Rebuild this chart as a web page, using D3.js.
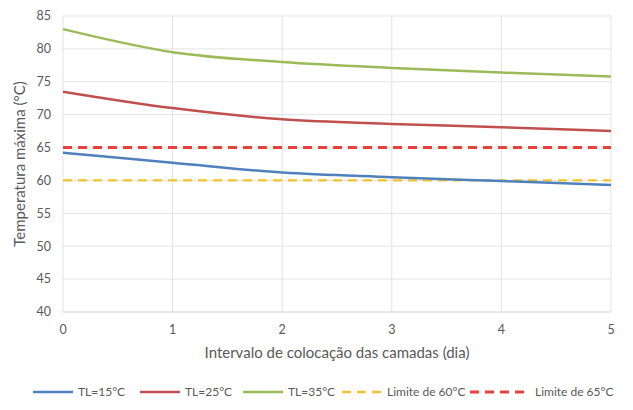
<!DOCTYPE html>
<html>
<head>
<meta charset="utf-8">
<script src="https://cdn.jsdelivr.net/npm/d3@7"></script>
<style>
  body { margin: 0; background: #fff; }
  svg text { font-family: Lato, "Open Sans", sans-serif; fill: #595959; }
</style>
</head>
<body>
<div id="chart"></div>
<script>
const days = [0, 1, 2, 3, 4, 5]
const tl15 = [64.2, 62.7, 61.2, 60.5, 59.9, 59.3]
const tl25 = [73.5, 71.0, 69.3, 68.6, 68.1, 67.5]
const tl35 = [83.0, 79.5, 78.0, 77.1, 76.4, 75.8]
const limits = [60, 65]
const yTicks = [40, 45, 50, 55, 60, 65, 70, 75, 80, 85]
const legendLabels = ['TL=15°C', 'TL=25°C', 'TL=35°C', 'Limite de 60°C', 'Limite de 65°C']

const width = 633
const height = 410
const margin = {top: 16, right: 22, bottom: 98, left: 63}

const svg = d3.select('#chart').append('svg')
  .attr('width', width)
  .attr('height', height)

const x = d3.scaleLinear().domain([0, 5]).range([margin.left, width - margin.right])
const y = d3.scaleLinear().domain([40, 85]).range([height - margin.bottom, margin.top])

// gridlines
svg.append('g').selectAll('line')
  .data(yTicks)
  .enter().append('line')
  .attr('x1', x(0)).attr('x2', x(5))
  .attr('y1', d => y(d)).attr('y2', d => y(d))
  .attr('stroke', d => d === 40 ? '#cfcfcf' : '#e3e3e3')
  .attr('stroke-width', 1)

svg.append('g').selectAll('line')
  .data(days)
  .enter().append('line')
  .attr('x1', d => x(d)).attr('x2', d => x(d))
  .attr('y1', y(40)).attr('y2', y(85))
  .attr('stroke', '#e3e3e3')

// tick labels
svg.append('g').selectAll('text')
  .data(yTicks)
  .enter().append('text')
  .attr('x', x(0) - 12)
  .attr('y', d => y(d))
  .attr('dy', '0.35em')
  .attr('text-anchor', 'end')
  .attr('font-size', 12.5)
  .text(d => d)

svg.append('g').selectAll('text')
  .data(days)
  .enter().append('text')
  .attr('x', d => x(d))
  .attr('y', y(40) + 22)
  .attr('text-anchor', 'middle')
  .attr('font-size', 12.5)
  .text(d => d)

// axis titles
svg.append('text')
  .attr('x', (x(0) + x(5)) / 2)
  .attr('y', 358)
  .attr('text-anchor', 'middle')
  .attr('font-size', 15)
  .text('Intervalo de colocação das camadas (dia)')

svg.append('text')
  .attr('transform', `translate(25,${(y(40) + y(85)) / 2}) rotate(-90)`)
  .attr('text-anchor', 'middle')
  .attr('font-size', 15)
  .text('Temperatura máxima (°C)')

// limit lines
const limitColors = ['#f2c12e', '#e8403a']
svg.append('g').selectAll('line')
  .data(limits)
  .enter().append('line')
  .attr('x1', x(0)).attr('x2', x(5))
  .attr('y1', d => y(d)).attr('y2', d => y(d))
  .attr('stroke', (d, i) => limitColors[i])
  .attr('stroke-width', d => d === 65 ? 3 : 2.2)
  .attr('stroke-dasharray', '9,6')

// series
const seriesColors = ['#4f81bd', '#c0504d', '#9bbb59']
const series = [tl15, tl25, tl35]
const line = d3.line()
  .x((d, i) => x(days[i]))
  .y(d => y(d))
  .curve(d3.curveMonotoneX)

svg.append('g').selectAll('path')
  .data(series)
  .enter().append('path')
  .attr('d', line)
  .attr('fill', 'none')
  .attr('stroke', (d, i) => seriesColors[i])
  .attr('stroke-width', 2.5)

// legend
const legendX = [33, 140, 243, 342, 470]
const legendColors = seriesColors.concat(limitColors)
const lg = svg.append('g').selectAll('g')
  .data(legendLabels)
  .enter().append('g')
  .attr('transform', (d, i) => `translate(${legendX[i]},392)`)

lg.append('line')
  .attr('x1', 0).attr('x2', (d, i) => i === 4 ? 60 : 40)
  .attr('y1', 0).attr('y2', 0)
  .attr('stroke', (d, i) => legendColors[i])
  .attr('stroke-width', (d, i) => i === 4 ? 3 : 2.5)
  .attr('stroke-dasharray', (d, i) => i >= 3 ? '9,6' : null)

lg.append('text')
  .attr('x', (d, i) => (i === 4 ? 60 : 40) + 5)
  .attr('dy', '0.35em')
  .attr('font-size', 12)
  .text(d => d)
</script>
</body>
</html>
